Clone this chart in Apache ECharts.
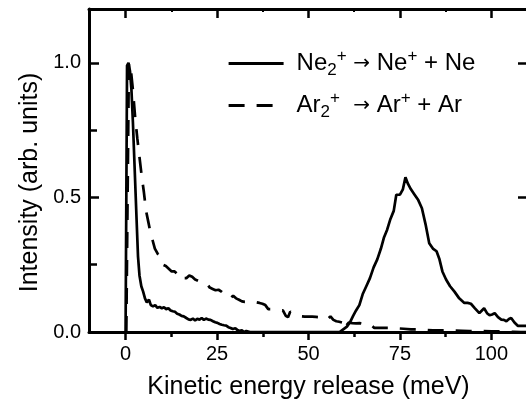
<!DOCTYPE html>
<html><head><meta charset="utf-8">
<script src="https://cdn.jsdelivr.net/npm/echarts@6/dist/echarts.min.js"></script>
<style>html,body{margin:0;padding:0;background:#fff}#c{width:526px;height:403px}</style>
</head><body><div id="c"></div>
<script>
const seriesNames = ['Ne', 'Ar'];
const legendLabels = {
  Ne: 'Ne{sub|2}{sup|+} {ar|→} Ne{sup|+} + Ne',
  Ar: 'Ar{sub|2}{sup|+}  {ar|→} Ar{sup|+} + Ar'
};
const xName = 'Kinetic energy release (meV)';
const yName = 'Intensity (arb. units)';
const xMajorTicks = [0, 25, 50, 75, 100];
const xMinorTicks = [12.5, 37.5, 62.5, 87.5];
const yMajorTicks = [0, 0.5, 1.0];
const yMinorTicks = [0.25, 0.75];

const neX = [0, 0.4, 0.8, 1.2, 1.6, 2.0, 2.5, 3.0, 3.4, 3.8, 4.3, 4.8, 5.3, 5.8, 6.4, 6.9, 7.5, 8.1, 8.7, 9.3, 9.9, 10.5, 11.1, 11.7, 12.3, 12.9, 13.5, 14.1, 14.7, 15.3, 15.9, 16.6, 17.2, 17.8, 18.4, 19.0, 19.6, 20.2, 20.8, 21.4, 22.0, 22.6, 23.2, 23.9, 24.5, 25.1, 25.7, 26.3, 26.9, 27.5, 28.1, 28.7, 29.3, 30.0, 30.6, 31.2, 31.8, 32.4, 33.0, 34.0, 58.5, 59.5, 60.5, 61.3, 62.2, 63.0, 63.9, 64.8, 65.8, 66.8, 67.8, 68.8, 69.8, 70.6, 71.5, 72.4, 73.3, 74.0, 75.0, 75.8, 76.5, 77.2, 78.0, 79.0, 80.0, 81.0, 82.0, 83.0, 84.0, 85.0, 85.8, 86.6, 87.6, 88.7, 89.9, 91.2, 92.6, 93.5, 94.4, 95.5, 96.7, 97.4, 98.0, 98.8, 99.5, 100.2, 100.9, 101.8, 102.7, 103.4, 104.1, 104.8, 105.4, 106.3, 107.2, 108.4, 110.0];
const neY = [0, 0.99, 1.0, 0.97, 0.9, 0.78, 0.6, 0.42, 0.28, 0.21, 0.17, 0.15, 0.125, 0.11, 0.12, 0.1, 0.095, 0.1, 0.09, 0.093, 0.088, 0.092, 0.085, 0.088, 0.08, 0.077, 0.075, 0.068, 0.065, 0.06, 0.058, 0.052, 0.047, 0.045, 0.05, 0.043, 0.049, 0.046, 0.052, 0.045, 0.05, 0.046, 0.045, 0.04, 0.036, 0.034, 0.03, 0.027, 0.025, 0.024, 0.018, 0.015, 0.011, 0.014, 0.007, 0.004, 0.006, 0.0, 0.004, 0.0, 0.0, 0.01, 0.02, 0.035, 0.06, 0.08, 0.1, 0.14, 0.17, 0.2, 0.24, 0.27, 0.31, 0.35, 0.38, 0.42, 0.45, 0.51, 0.51, 0.53, 0.575, 0.55, 0.53, 0.51, 0.49, 0.46, 0.4, 0.33, 0.31, 0.3, 0.27, 0.225, 0.195, 0.17, 0.15, 0.125, 0.108, 0.108, 0.105, 0.088, 0.07, 0.08, 0.088, 0.07, 0.062, 0.065, 0.07, 0.055, 0.046, 0.045, 0.04, 0.048, 0.052, 0.035, 0.023, 0.023, 0.023];

const arX = [0.2, 0.9, 1.4, 2.0, 2.6, 3.2, 3.8, 4.4, 5.0, 5.6, 6.2, 6.8, 7.4, 8.0, 8.8, 9.6, 10.2, 11.0, 11.8, 12.6, 13.4, 14.2, 15.0, 15.8, 16.6, 17.4, 18.2, 19.0, 19.8, 20.6, 21.4, 22.2, 23.0, 23.8, 24.6, 25.4, 26.2, 27.0, 27.8, 28.6, 29.4, 30.2, 31.0, 31.8, 32.6, 33.4, 34.2, 35.0, 35.8, 36.6, 37.4, 38.2, 39.0, 39.8, 40.6, 41.4, 42.2, 43.0, 43.8, 44.4, 45.0, 45.8, 46.6, 47.4, 48.2, 49.0, 50.0, 51.0, 52.0, 53.0, 54.0, 55.0, 56.0, 56.8, 57.6, 58.4, 59.2, 59.8, 60.4, 61.0, 62.0, 63.0, 64.0, 65.0, 66.0, 67.0, 68.0, 69.0, 70.0, 72.0, 74.0, 76.0, 78.0, 80.0, 82.0, 84.0, 86.0, 88.0, 90.0, 92.0, 94.0, 96.0, 98.0, 100.0, 102.0, 104.0, 106.0, 108.0, 110.0];
const arY = [0, 1.0, 0.98, 0.9, 0.8, 0.72, 0.65, 0.58, 0.52, 0.45, 0.41, 0.37, 0.34, 0.31, 0.29, 0.275, 0.25, 0.245, 0.235, 0.225, 0.225, 0.215, 0.22, 0.2, 0.2, 0.21, 0.205, 0.195, 0.19, 0.185, 0.18, 0.18, 0.165, 0.16, 0.155, 0.157, 0.15, 0.14, 0.135, 0.125, 0.135, 0.125, 0.12, 0.114, 0.112, 0.112, 0.11, 0.112, 0.11, 0.108, 0.105, 0.1, 0.085, 0.085, 0.083, 0.083, 0.08, 0.08, 0.06, 0.055, 0.075, 0.07, 0.065, 0.06, 0.058, 0.057, 0.057, 0.057, 0.056, 0.055, 0.05, 0.045, 0.058, 0.045, 0.04, 0.038, 0.035, 0.01, 0.025, 0.035, 0.033, 0.032, 0.033, 0.03, 0.03, 0.028, 0.015, 0.015, 0.015, 0.015, 0.014, 0.012, 0.01, 0.01, 0.008, 0.006, 0.006, 0.007, 0.005, 0.004, 0.003, 0.003, 0.003, 0.002, 0.002, 0.001, 0.001, 0.0, 0.0];

const FONT = '"Liberation Sans", Arial, Helvetica, sans-serif';
const BLACK = '#000';
const pairs = (xs, ys) => xs.map((x, i) => [x, ys[i]]);

const chart = echarts.init(document.getElementById('c'), null, {renderer: 'canvas'});
const axisLine = {show: true, onZero: false, lineStyle: {color: BLACK, width: 3}};
const noLine = {show: false, onZero: false};
const baseX = {type: 'value', gridIndex: 0, min: -10, max: 110, splitLine: {show: false}};
const baseY = {type: 'value', gridIndex: 0, min: 0, max: 1.2, splitLine: {show: false}};

chart.setOption({
  animation: false,
  backgroundColor: '#fff',
  textStyle: {fontFamily: FONT, color: BLACK},
  grid: {left: 89, top: 9, width: 439, height: 323, outerBoundsMode: 'none', containLabel: false},
  legend: {
    orient: 'vertical', left: 227, top: 48, padding: 0, itemGap: 11,
    itemWidth: 55, itemHeight: 14,
    data: seriesNames,
    formatter: n => legendLabels[n],
    itemStyle: {opacity: 0},
    lineStyle: {opacity: 1, width: 3.2},
    textStyle: {
      fontFamily: FONT, fontSize: 24, color: BLACK, lineHeight: 31, padding: [0, 0, 0, 8],
      rich: {
        sub: {fontFamily: FONT, fontSize: 17, lineHeight: 16, verticalAlign: 'bottom', color: BLACK},
        sup: {fontFamily: FONT, fontSize: 17, lineHeight: 16, verticalAlign: 'top', color: BLACK},
        ar: {fontFamily: '"DejaVu Sans", sans-serif', fontSize: 20, color: BLACK}
      }
    }
  },
  xAxis: [
    Object.assign({}, baseX, {
      position: 'bottom', axisLine: axisLine,
      axisTick: {show: true, inside: false, length: 8, customValues: xMajorTicks, lineStyle: {color: BLACK, width: 2.5}},
      axisLabel: {show: true, customValues: xMajorTicks, fontSize: 20, margin: 12, color: BLACK, fontFamily: FONT},
      name: xName, nameLocation: 'middle', nameGap: 43,
      nameTextStyle: {fontSize: 25, color: BLACK, fontFamily: FONT}
    }),
    Object.assign({}, baseX, {
      position: 'bottom', axisLine: noLine,
      axisTick: {show: true, inside: false, length: 5, customValues: xMinorTicks, lineStyle: {color: BLACK, width: 2.5}},
      axisLabel: {show: false}
    }),
    Object.assign({}, baseX, {
      position: 'top', axisLine: axisLine,
      axisTick: {show: true, inside: true, length: 9, customValues: xMajorTicks, lineStyle: {color: BLACK, width: 2.5}},
      axisLabel: {show: false}
    }),
    Object.assign({}, baseX, {
      position: 'top', axisLine: noLine,
      axisTick: {show: true, inside: true, length: 3, customValues: xMinorTicks, lineStyle: {color: BLACK, width: 2}},
      axisLabel: {show: false}
    })
  ],
  yAxis: [
    Object.assign({}, baseY, {
      position: 'left', axisLine: axisLine,
      axisTick: {show: true, inside: true, length: 10, customValues: yMajorTicks, lineStyle: {color: BLACK, width: 2.5}},
      axisLabel: {show: true, customValues: yMajorTicks, fontSize: 20, margin: 8, color: BLACK, fontFamily: FONT,
        formatter: v => v.toFixed(1)},
      name: yName, nameLocation: 'middle', nameGap: 45, nameRotate: 90,
      nameTextStyle: {fontSize: 25, color: BLACK, fontFamily: FONT, padding: [0, 24, 0, 0]}
    }),
    Object.assign({}, baseY, {
      position: 'left', axisLine: noLine,
      axisTick: {show: true, inside: true, length: 8, customValues: yMinorTicks, lineStyle: {color: BLACK, width: 2.5}},
      axisLabel: {show: false}
    }),
    Object.assign({}, baseY, {
      position: 'right', axisLine: axisLine,
      axisTick: {show: true, inside: true, length: 10, customValues: yMajorTicks, lineStyle: {color: BLACK, width: 2.5}},
      axisLabel: {show: false}
    })
  ],
  series: [
    {name: 'Ne', type: 'line', xAxisIndex: 0, yAxisIndex: 0, data: pairs(neX, neY), showSymbol: false, symbol: 'none',
      lineStyle: {color: BLACK, width: 2.7, type: 'solid'}, itemStyle: {color: BLACK}, clip: true},
    {name: 'Ar', type: 'line', xAxisIndex: 0, yAxisIndex: 0, data: pairs(arX, arY), showSymbol: false, symbol: 'none',
      lineStyle: {color: BLACK, width: 2.7, type: [16, 12]}, itemStyle: {color: BLACK}, clip: true}
  ]
});
</script></body></html>
